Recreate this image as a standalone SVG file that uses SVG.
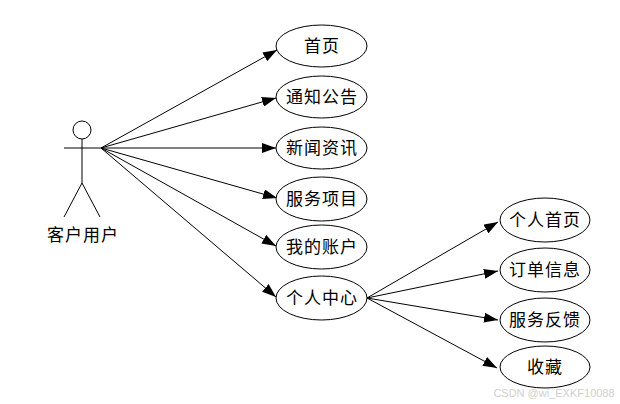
<svg xmlns="http://www.w3.org/2000/svg" width="620" height="404" viewBox="0 0 620 404">
<style>
.n ellipse{fill:#fff;stroke:#000;stroke-width:1}
text{font-family:"Noto Sans CJK SC","Noto Sans",sans-serif;font-size:17px;fill:#000;text-anchor:middle;letter-spacing:1px}
.e line{stroke:#000;stroke-width:1;marker-end:url(#arr)}
.a line,.a circle{stroke:#000;stroke-width:1;fill:#fff}
</style>
<defs>
<marker id="arr" markerUnits="userSpaceOnUse" markerWidth="14" markerHeight="10" refX="14" refY="5" orient="auto">
<path d="M0,0 L14,5 L0,10 z" fill="#000"/>
</marker>
</defs>
<rect width="620" height="404" fill="#fff"/>
<g id="edges" class="e">
<line x1="101" y1="148" x2="277" y2="50"/>
<line x1="101" y1="148" x2="276" y2="98"/>
<line x1="101" y1="148" x2="276" y2="148"/>
<line x1="101" y1="148" x2="277" y2="198"/>
<line x1="101" y1="148" x2="276" y2="246"/>
<line x1="101" y1="148" x2="276" y2="297"/>
<line x1="367" y1="298" x2="498" y2="222"/>
<line x1="367" y1="298" x2="498" y2="271"/>
<line x1="367" y1="298" x2="498" y2="320"/>
<line x1="367" y1="298" x2="497" y2="368"/>
</g>
<g id="actor" class="a">
<circle cx="82" cy="130" r="9"/>
<line x1="82" y1="139" x2="82" y2="183"/>
<line x1="64" y1="148" x2="101" y2="148"/>
<line x1="82" y1="183" x2="64" y2="217"/>
<line x1="82" y1="183" x2="100" y2="217"/>
<text x="83" y="241">客户用户</text>
</g>
<g id="n1" class="n"><ellipse cx="321.5" cy="46" rx="45.5" ry="21"/><text x="322" y="52">首页</text></g>
<g id="n2" class="n"><ellipse cx="321.5" cy="97" rx="45.5" ry="21"/><text x="322" y="103">通知公告</text></g>
<g id="n3" class="n"><ellipse cx="321.5" cy="148" rx="45.5" ry="21"/><text x="322" y="154">新闻资讯</text></g>
<g id="n4" class="n"><ellipse cx="321.5" cy="199" rx="45.5" ry="22"/><text x="322" y="205">服务项目</text></g>
<g id="n5" class="n"><ellipse cx="321.5" cy="247" rx="45.5" ry="22"/><text x="322" y="253">我的账户</text></g>
<g id="n6" class="n"><ellipse cx="321.5" cy="298" rx="45.5" ry="22"/><text x="322" y="304">个人中心</text></g>
<g id="n7" class="n"><ellipse cx="545" cy="220" rx="45" ry="22"/><text x="545" y="226">个人首页</text></g>
<g id="n8" class="n"><ellipse cx="545" cy="270" rx="45" ry="22"/><text x="545" y="276">订单信息</text></g>
<g id="n9" class="n"><ellipse cx="545" cy="320" rx="45" ry="22"/><text x="545" y="326">服务反馈</text></g>
<g id="n10" class="n"><ellipse cx="545" cy="367" rx="45" ry="21"/><text x="545" y="373">收藏</text></g>
<text x="554" y="397" style="font-family:'Liberation Sans',sans-serif;font-size:11px;fill:#d0d0d0;letter-spacing:0">CSDN @wi_EXKF10088</text>
</svg>
